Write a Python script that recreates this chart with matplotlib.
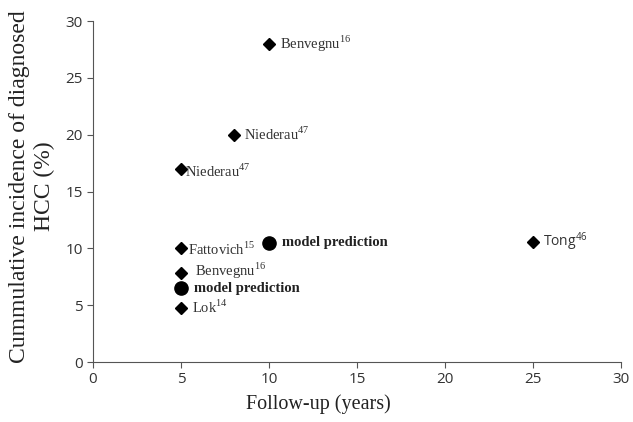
import matplotlib.pyplot as plt

plt.rcParams['mathtext.fontset'] = 'custom'
plt.rcParams['mathtext.rm'] = 'Liberation Serif'
plt.rcParams['mathtext.sf'] = 'Open Sans'

# studies (diamonds)
study_x = [10, 8, 5, 5, 5, 5, 25]
study_y = [28, 20, 17, 10, 7.8, 4.8, 10.6]
study_labels = [r'Benvegnu$^{\mathrm{16}}$', r'Niederau$^{\mathrm{47}}$', r'Niederau$^{\mathrm{47}}$',
                r'Fattovich$^{\mathrm{15}}$', r'Benvegnu$^{\mathrm{16}}$', r'Lok$^{\mathrm{14}}$',
                r'Tong$^{\mathsf{46}}$']
# offsets of labels (points)
study_dx = [8, 7, 3, 5, 10, 8, 7]
study_dy = [0, 0, -2, -1, 2, 0, 0]

# model predictions (circles)
model_x = [10, 5]
model_y = [10.5, 6.5]
model_labels = ['model prediction', 'model prediction']

fig = plt.figure(figsize=(6.33, 4.22), dpi=100)
ax = fig.add_axes([0.147, 0.142, 0.834, 0.808])

ax.plot(study_x, study_y, 'D', color='black', markersize=6.5)
ax.plot(model_x, model_y, 'o', color='black', markersize=9.5)

for x, y, s, dx, dy in zip(study_x, study_y, study_labels, study_dx, study_dy):
    fam = 'Open Sans' if s.startswith('Tong') else 'Liberation Serif'
    fs = 10 if s.startswith('Tong') else 10.5
    ax.annotate(s, (x, y), xytext=(dx, dy), textcoords='offset points',
                va='center', ha='left', fontsize=fs, family=fam, color='#333333')

for x, y, s in zip(model_x, model_y, model_labels):
    ax.annotate(s, (x, y), xytext=(9, 0), textcoords='offset points',
                va='center', ha='left', fontsize=10.5, family='Liberation Serif',
                fontweight='bold', color='#222222')

ax.set_xlim(0, 30)
ax.set_ylim(0, 30)
ax.set_xticks(range(0, 31, 5))
ax.set_yticks(range(0, 31, 5))
ax.spines['top'].set_visible(False)
ax.spines['right'].set_visible(False)
for sp in ['left', 'bottom']:
    ax.spines[sp].set_color('#555555')
ax.tick_params(colors='#555555', labelsize=11, length=4, direction='out')
for lab in ax.get_xticklabels() + ax.get_yticklabels():
    lab.set_family('Open Sans')
    lab.set_color('#333333')

ax.set_xlabel('Follow-up (years)', family='Liberation Serif', fontsize=14.5, color='#222222')
ax.xaxis.set_label_coords(0.426, -0.095)
ax.set_ylabel('Cummulative incidence of diagnosed\nHCC (%)', family='Liberation Serif',
              fontsize=17, color='#222222', linespacing=1.25)
ax.yaxis.set_label_coords(-0.072, 0.516)

fig.savefig('out.png', dpi=100)
